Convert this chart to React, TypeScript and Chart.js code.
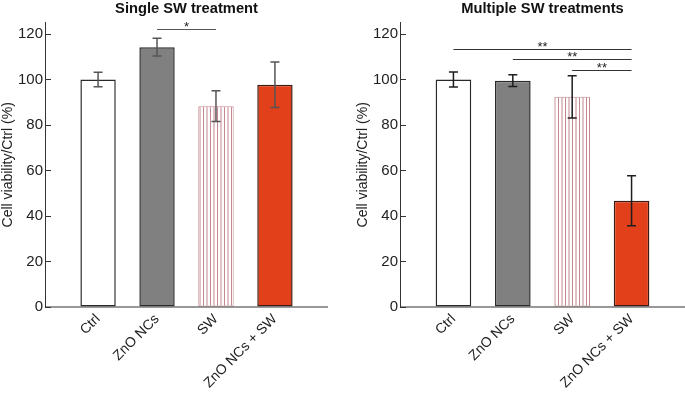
import React, { useEffect, useRef } from "react";
import { Chart, registerables } from "chart.js";

Chart.register(...registerables);

const categories = ["Ctrl", "ZnO NCs", "SW", "ZnO NCs + SW"];
const yTicks = [0, 20, 40, 60, 80, 100, 120];

const singleValues = [100, 114.2, 88.3, 97.7];
const singleErrors = [3.2, 3.9, 6.8, 10];
const singleSig = [{ from: 1, to: 2, y: 122.4, label: "*" }];

const multiValues = [100, 99.5, 92.4, 46.7];
const multiErrors = [3.3, 2.6, 9.3, 11];
const multiSig = [
  { from: 0, to: 3, y: 113.3, label: "**" },
  { from: 1, to: 3, y: 108.9, label: "**" },
  { from: 2, to: 3, y: 104.3, label: "**" },
];

const FONT = "'Liberation Sans', Arial, sans-serif";

function makeStripePattern(): CanvasPattern | string {
  const c = document.createElement("canvas");
  c.width = 7;
  c.height = 4;
  const g = c.getContext("2d");
  if (!g) return "#e0b8be";
  g.fillStyle = "#ffffff";
  g.fillRect(0, 0, 7, 4);
  g.fillStyle = "#c4878f";
  g.fillRect(0, 0, 1, 4);
  g.fillRect(3.5, 0, 1, 4);
  const p = g.createPattern(c, "repeat");
  return p || "#e0b8be";
}

type Sig = { from: number; to: number; y: number; label: string };

function Panel(props: {
  title: string;
  values: number[];
  errors: number[];
  sigs: Sig[];
  errColor: string;
  sigColor: string;
  padRight: number;
  left: number;
  width: number;
}) {
  const ref = useRef<HTMLCanvasElement>(null);
  useEffect(() => {
    if (!ref.current) return;
    const { values, errors, sigs, errColor, sigColor } = props;
    const stripe = makeStripePattern();
    const overlay = {
      id: "overlay",
      afterDraw(chart: any) {
        const ctx = chart.ctx;
        const a = chart.chartArea;
        const xs = chart.scales.x;
        const ys = chart.scales.y;
        ctx.save();
        // x axis line
        ctx.strokeStyle = "#333";
        ctx.lineWidth = 1.2;
        ctx.beginPath();
        ctx.moveTo(a.left, a.bottom);
        ctx.lineTo(a.right, a.bottom);
        ctx.stroke();
        // error bars
        ctx.strokeStyle = errColor;
        ctx.lineWidth = 1.5;
        values.forEach((v, i) => {
          const x = xs.getPixelForValue(i);
          const yt = ys.getPixelForValue(v + errors[i]);
          const yb = ys.getPixelForValue(v - errors[i]);
          ctx.beginPath();
          ctx.moveTo(x, yt);
          ctx.lineTo(x, yb);
          ctx.moveTo(x - 4.5, yt);
          ctx.lineTo(x + 4.5, yt);
          ctx.moveTo(x - 4.5, yb);
          ctx.lineTo(x + 4.5, yb);
          ctx.stroke();
        });
        // significance brackets
        ctx.strokeStyle = sigColor;
        ctx.fillStyle = "#222";
        ctx.lineWidth = 1;
        ctx.font = "13px " + FONT;
        ctx.textAlign = "center";
        ctx.textBaseline = "alphabetic";
        sigs.forEach((s) => {
          const x1 = xs.getPixelForValue(s.from);
          const x2 = xs.getPixelForValue(s.to);
          const y = Math.round(ys.getPixelForValue(s.y)) + 0.5;
          ctx.beginPath();
          ctx.moveTo(x1, y);
          ctx.lineTo(x2, y);
          ctx.stroke();
          ctx.fillText(s.label, (x1 + x2) / 2, y + 1);
        });
        ctx.restore();
      },
    };
    const chart = new Chart(ref.current, {
      type: "bar",
      data: {
        datasets: [
          {
            data: values.map((v, i) => ({ x: i, y: v })),
            backgroundColor: ["#ffffff", "#808080", stripe as any, "#e2401b"],
            borderColor: ["#2a2a2a", "#2a2a2a", "#c4878f", "#3a1c12"],
            borderWidth: [1.5, 1.5, 1, 1.5],
            borderSkipped: false,
            barPercentage: 0.6,
            categoryPercentage: 1,
          },
        ],
      },
      options: {
        animation: false,
        responsive: false,
        maintainAspectRatio: false,
        layout: { padding: { left: 0, right: props.padRight, top: 0, bottom: 0 } },
        plugins: {
          legend: { display: false },
          tooltip: { enabled: false },
          title: {
            display: true,
            text: props.title,
            fullSize: false,
            color: "#111",
            font: { family: FONT, size: 14.7, weight: "bold" },
            padding: { top: 0, bottom: 5 },
          },
        },
        scales: {
          x: {
            type: "linear",
            min: -0.9,
            max: 3.9,
            offset: false,
            afterBuildTicks: (s: any) => {
              s.ticks = categories.map((_, i) => ({ value: i }));
            },
            afterFit: (s: any) => {
              s.height = 86;
            },
            ticks: {
              autoSkip: false,
              minRotation: 45,
              maxRotation: 45,
              padding: 4,
              color: "#222",
              font: { family: FONT, size: 14 },
              callback: (v: any) => categories[Math.round(Number(v))] ?? "",
            },
            grid: {
              display: true,
              drawOnChartArea: false,
              drawTicks: false,
              color: "rgba(0,0,0,0)",
            },
            border: { display: false },
          },
          y: {
            min: 0,
            max: 125,
            afterBuildTicks: (s: any) => {
              s.ticks = yTicks.map((v) => ({ value: v }));
            },
            afterFit: (s: any) => {
              s.width = 45;
            },
            ticks: {
              padding: 8,
              color: "#222",
              font: { family: FONT, size: 15 },
            },
            grid: {
              display: true,
              drawOnChartArea: false,
              drawTicks: true,
              tickLength: -6,
              color: "#333",
              lineWidth: 1,
            },
            border: { display: true, color: "#333", width: 1 },
            title: {
              display: true,
              text: "Cell viability/Ctrl (%)",
              color: "#222",
              font: { family: FONT, size: 14 },
              padding: { top: 0, bottom: 0 },
            },
          },
        },
      } as any,
      plugins: [overlay],
    });
    return () => chart.destroy();
  }, []);
  return (
    <canvas
      ref={ref}
      width={props.width}
      height={393}
      style={{ position: "absolute", left: props.left, top: 0, width: props.width, height: 393 }}
    />
  );
}

export default function App() {
  return (
    <div style={{ position: "fixed", left: 0, top: 0, width: 685, height: 393, background: "#fff", overflow: "hidden" }}>
      <Panel
        title="Single SW treatment"
        values={singleValues}
        errors={singleErrors}
        sigs={singleSig}
        errColor="#555"
        sigColor="#555"
        padRight={12}
        left={0}
        width={340}
      />
      <Panel
        title="Multiple SW treatments"
        values={multiValues}
        errors={multiErrors}
        sigs={multiSig}
        errColor="#1e1e1e"
        sigColor="#333"
        padRight={0}
        left={355}
        width={330}
      />
    </div>
  );
}
